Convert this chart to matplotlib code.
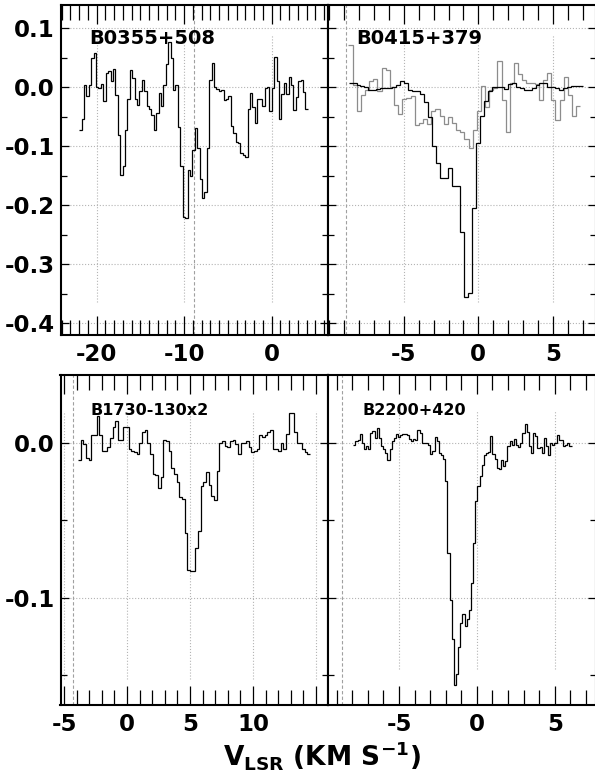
import numpy as np
import matplotlib as mpl
mpl.use("Agg")
import matplotlib.pyplot as plt

plt.rcParams['font.family'] = ['DejaVu Sans']
plt.rcParams['font.weight'] = 'bold'
plt.rcParams['mathtext.default'] = 'bf'
plt.rcParams['axes.unicode_minus'] = False

# ---- spectra (optical depth-like values per channel) ----
B0355_V0, B0355_DV = -22.0, 0.275
B0355 = [-0.072, -0.054, 0.004, -0.015, 0.004, 0.049, 0.058, 0.001, -0.002, 0.006,
         -0.023, 0.024, 0.028, 0.011, 0.031, -0.013, -0.081, -0.149, -0.134, -0.072,
         -0.020, 0.029, 0.015, -0.020, -0.030, -0.007, 0.012, -0.007, -0.032, -0.036,
         -0.047, -0.072, -0.044, -0.010, -0.032, 0.004, 0.040, 0.077, 0.049, -0.005,
         0.004, -0.067, -0.133, -0.220, -0.222, -0.140, -0.150, -0.106, -0.069, -0.103,
         -0.156, -0.188, -0.178, -0.103, 0.012, 0.042, 0.001, -0.003, -0.006, -0.005,
         -0.021, -0.019, -0.015, -0.066, -0.078, -0.092, -0.095, -0.112, -0.115, -0.118,
         -0.036, -0.009, -0.034, -0.060, -0.020, -0.020, -0.032, -0.002, 0.001, -0.040,
         -0.002, 0.052, 0.010, -0.054, -0.011, 0.007, -0.011, 0.017, 0.004, -0.038,
         -0.016, 0.010, 0.012, -0.008, -0.036]

B0415_V0, B0415_DV = -8.71, 0.267
B0415 = [0.007, 0.007, 0.004, 0.002, 0.001, -0.005, -0.005, -0.003, -0.001, -0.001,
         -0.002, 0.000, 0.004, 0.010, 0.007, -0.005, -0.006, -0.006, -0.011, -0.025,
         -0.051, -0.099, -0.129, -0.154, -0.153, -0.137, -0.167, -0.167, -0.246, -0.356,
         -0.349, -0.205, -0.095, -0.048, -0.024, -0.006, 0.000, 0.001, 0.000, -0.003,
         0.005, 0.007, 0.001, -0.002, -0.004, -0.005, -0.002, 0.004, 0.007, 0.007,
         0.001, 0.000, -0.002, -0.005, -0.002, 0.000, 0.002, 0.002, 0.002]

B0415_WIDE_V0, B0415_WIDE_DV = -8.72, 0.278
B0415_WIDE = [0.072, 0.004, -0.040, -0.013, -0.005, 0.011, 0.014, -0.006, 0.032, 0.029,
              0.000, -0.030, -0.045, -0.019, -0.018, -0.014, -0.064, -0.060, -0.053, -0.062,
              -0.041, -0.037, -0.049, -0.062, -0.050, -0.061, -0.073, -0.075, -0.088, -0.103,
              -0.072, -0.041, 0.002, -0.034, -0.005, -0.001, 0.044, -0.021, -0.076, 0.007,
              0.042, 0.022, 0.012, 0.008, 0.008, 0.006, -0.021, 0.012, 0.024, -0.021,
              -0.055, -0.021, 0.018, -0.013, -0.049, -0.032]

B1730_V0, B1730_DV = -3.89, 0.2116
B1730 = [-0.011, 0.002, -0.001, -0.010, -0.011, 0.005, 0.005, 0.017, 0.005, -0.005,
         -0.005, -0.003, 0.003, 0.010, 0.014, 0.002, 0.002, 0.010, 0.010, -0.004,
         -0.005, -0.006, -0.007, 0.000, 0.007, 0.008, 0.000, -0.007, -0.020, -0.021,
         -0.029, -0.022, 0.002, 0.001, -0.005, -0.016, -0.020, -0.025, -0.035, -0.036,
         -0.058, -0.082, -0.083, -0.083, -0.068, -0.057, -0.028, -0.025, -0.019, -0.027,
         -0.034, -0.037, -0.018, 0.000, 0.001, -0.002, -0.003, 0.001, 0.002, -0.001,
         -0.007, 0.000, 0.000, 0.001, -0.003, -0.006, -0.005, -0.004, 0.005, 0.004,
         0.005, 0.007, 0.008, -0.004, -0.004, -0.005, 0.000, -0.004, 0.006, 0.019,
         0.019, 0.007, 0.000, 0.000, -0.004, -0.006, -0.007]

B2200_V0, B2200_DV = -7.94, 0.1375
B2200 = [-0.0017, 0.0011, 0.0017, 0.0054, 0.0000, -0.0037, -0.0022, -0.0039, 0.0065, 0.0076,
         0.0032, 0.0097, 0.0032, -0.0022, -0.0039, -0.0065, -0.0112, -0.0039, 0.0011, 0.0032,
         0.0054, 0.0039, 0.0048, 0.0060, 0.0054, 0.0048, 0.0022, 0.0011, 0.0026, 0.0017,
         0.0082, 0.0065, 0.0000, -0.0004, -0.0004, -0.0011, -0.0069, -0.0054, 0.0039, 0.0011,
         -0.0065, -0.0076, -0.0104, -0.0248, -0.0713, -0.1015, -0.1264, -0.1566, -0.1490, -0.1318,
         -0.1166, -0.1106, -0.1184, -0.1134, -0.1080, -0.0907, -0.0648, -0.0378, -0.0281, -0.0212,
         -0.0140, -0.0076, -0.0065, -0.0060, 0.0043, -0.0069, -0.0104, -0.0162, -0.0168, -0.0108,
         -0.0147, -0.0119, -0.0022, 0.0011, -0.0011, 0.0026, -0.0017, -0.0026, 0.0000, 0.0065,
         0.0119, 0.0069, -0.0022, -0.0065, 0.0065, 0.0043, -0.0032, -0.0026, -0.0065, 0.0032,
         -0.0022, -0.0076, 0.0000, -0.0011, 0.0000, 0.0048, 0.0017, 0.0017, -0.0022, -0.0017,
         0.0000, -0.0022]

W, H = 595.0, 779.0
fig = plt.figure(figsize=(W / 100, H / 100), dpi=100)

GRID = '#b4b4b4'
LW = 0.9


def px_axes(x0, y0, x1, y1):
    return fig.add_axes([x0 / W, 1 - y1 / H, (x1 - x0) / W, (y1 - y0) / H])


def channel_edges(v0, dv, n):
    return v0 + dv * np.arange(n + 1)


def setup(ax, xlim, ylim, xmaj, xlabels, ymaj, ylabels, dashed, vspan):
    ax.set_xlim(*xlim)
    for s in ax.spines.values():
        s.set_linewidth(1.5)
    ax.set_xticks(xmaj, xlabels)
    ax.set_xticks(np.arange(np.ceil(xlim[0]), xlim[1], 1.0), minor=True)
    ax.set_yticks(ymaj, ylabels if ylabels else [''] * len(ymaj))
    ax.set_yticks(np.arange(-0.45, 0.15, 0.05), minor=True)
    ax.set_ylim(*ylim)
    ax.tick_params(axis='x', which='major', direction='in', length=14, width=0.9,
                   top=True, bottom=True, labelsize=16.5, pad=6)
    ax.tick_params(axis='x', which='minor', direction='in', length=10.5, width=0.9,
                   top=True, bottom=True)
    ax.tick_params(axis='y', which='major', direction='in', length=6, width=0.9,
                   left=True, right=True, labelsize=16.5, pad=4)
    ax.tick_params(axis='y', which='minor', direction='in', length=4, width=0.9,
                   left=True, right=True)
    if not ylabels:
        ax.tick_params(axis='y', labelleft=False)
    for x in xmaj:
        ax.axvline(x, ymin=vspan[0], ymax=vspan[1], color=GRID, ls=':', lw=0.8, zorder=0)
    for y in ymaj:
        ax.axhline(y, color=GRID, ls=':', lw=0.8, zorder=0)
    ax.axvline(dashed, color='#a0a0a0', ls=(0, (3, 2)), lw=0.8, zorder=0)


top_ylim = (-0.4198, 0.1395)
top_yt = [0.1, 0.0, -0.1, -0.2, -0.3, -0.4]
bot_ylim = (-0.1692, 0.0441)
bot_yt = [0.0, -0.1]

# B0355+508
ax = px_axes(60.5, 5, 328, 335)
setup(ax, (-24.14, 6.43), top_ylim, [-20, -10, 0], ['-20', '-10', '0'],
      top_yt, ['0.1', '0.0', '-0.1', '-0.2', '-0.3', '-0.4'], -8.88, (0.1, 0.91))
ax.stairs(B0355, channel_edges(B0355_V0, B0355_DV, len(B0355)), baseline=None,
          color='black', lw=LW)
ax.text(0.109, 0.897, 'B0355+508', transform=ax.transAxes, fontsize=14,
        fontweight='bold', va='center', ha='left')

# B0415+379
ax = px_axes(328, 5, 596, 335)
setup(ax, (-10.09, 7.90), top_ylim, [-5, 0, 5], ['-5', '0', '5'],
      top_yt, None, -8.9, (0.1, 0.91))
ax.stairs(B0415_WIDE, channel_edges(B0415_WIDE_V0, B0415_WIDE_DV, len(B0415_WIDE)),
          baseline=None, color='#8c8c8c', lw=LW)
ax.stairs(B0415, channel_edges(B0415_V0, B0415_DV, len(B0415)), baseline=None,
          color='black', lw=LW)
ax.text(0.107, 0.897, 'B0415+379', transform=ax.transAxes, fontsize=14,
        fontweight='bold', va='center', ha='left')

# B1730-130 (x2)
ax = px_axes(60.5, 374.5, 328, 705)
setup(ax, (-5.28, 15.95), bot_ylim, [-5, 0, 5, 10, 15], ['-5', '0', '5', '10', ''],
      bot_yt, ['0.0', '-0.1'], -4.29, (0.08, 0.89))
ax.stairs(B1730, channel_edges(B1730_V0, B1730_DV, len(B1730)), baseline=None,
          color='black', lw=LW)
ax.text(0.112, 0.891, 'B1730-130x2', transform=ax.transAxes, fontsize=11.5,
        fontweight='bold', va='center', ha='left')

# B2200+420
ax = px_axes(328, 374.5, 596, 705)
setup(ax, (-9.56, 7.65), bot_ylim, [-5, 0, 5], ['-5', '0', '5'],
      bot_yt, None, -8.68, (0.11, 0.89))
ax.stairs(B2200, channel_edges(B2200_V0, B2200_DV, len(B2200)), baseline=None,
          color='black', lw=LW)
ax.text(0.13, 0.891, 'B2200+420', transform=ax.transAxes, fontsize=11.5,
        fontweight='bold', va='center', ha='left')

fig.text(322 / W, 1 - 755 / H, r'V$_{LSR}$ (KM S$^{-1}$)', ha='center', va='center',
         fontsize=19, fontweight='bold')

fig.savefig('out.png', dpi=100)
